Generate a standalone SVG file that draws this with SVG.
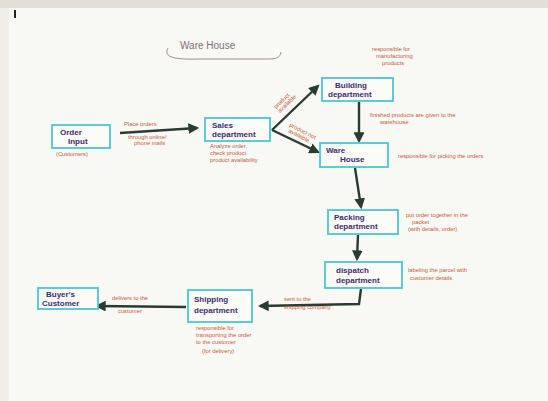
<svg xmlns="http://www.w3.org/2000/svg" width="548" height="401" viewBox="0 0 548 401">
<style>
.box{fill:#fbfbf8;stroke:#4cc6cf;stroke-width:1.8}
.nt{font-family:"Liberation Sans",sans-serif;font-size:8px;fill:#3b2d6b;font-weight:bold}
.rt{font-family:"Liberation Sans",sans-serif;font-size:5.8px;fill:#c4583f}
.ar{stroke:#2b3a32;stroke-width:2.4;fill:none}
</style>
<defs>
<marker id="ah" viewBox="0 0 10 10" refX="8" refY="5" markerWidth="4.5" markerHeight="4.5" orient="auto-start-reverse">
<path d="M0,0 L10,5 L0,10 z" fill="#2b3a32"/>
</marker>
</defs>
<rect width="548" height="401" fill="#f8f8f4"/>
<rect width="548" height="8" fill="#e3ded7"/>
<rect y="8" width="9" height="393" fill="#f0eee9"/>
<rect x="14" y="10" width="2" height="8" fill="#222"/>
<g id="title">
<text x="180" y="49" font-family="Liberation Sans,sans-serif" font-size="10" fill="#7d6f78">Ware House</text>
<path d="M168,48 C164,56 170,60 200,59 L268,59 C276,59 280,58 281,52" fill="none" stroke="#9a8e8e" stroke-width="1"/>
</g>
<g id="connectors">
<line class="ar" x1="120" y1="133" x2="197" y2="128" marker-end="url(#ah)"/>
<line class="ar" x1="272" y1="130" x2="318" y2="86" marker-end="url(#ah)"/>
<line class="ar" x1="272" y1="130" x2="318" y2="152" marker-end="url(#ah)"/>
<line class="ar" x1="359" y1="102" x2="359" y2="141" marker-end="url(#ah)"/>
<line class="ar" x1="355" y1="168" x2="361" y2="207" marker-end="url(#ah)"/>
<line class="ar" x1="358" y1="235" x2="357" y2="259" marker-end="url(#ah)"/>
<path class="ar" d="M361,289 L359,304 L260,306" marker-end="url(#ah)"/>
<line class="ar" x1="186" y1="307" x2="97" y2="306" marker-end="url(#ah)"/>
<text class="rt" x="124" y="126">Place orders</text>
<text class="rt" x="128" y="139">through online/</text>
<text class="rt" x="134" y="145">phone mails</text>
<text class="rt" transform="translate(276,109) rotate(-44)">product</text>
<text class="rt" transform="translate(280,113) rotate(-44)">available</text>
<text class="rt" transform="translate(289,126) rotate(28)">product not</text>
<text class="rt" transform="translate(288,132) rotate(28)">available</text>
<text class="rt" x="284" y="301">sent to the</text>
<text class="rt" x="284" y="309">shipping company</text>
<text class="rt" x="112" y="300">delivers to the</text>
<text class="rt" x="118" y="313">customer</text>
</g>
<g id="order-input">
<rect class="box" x="52" y="125" width="58" height="23"/>
<text class="nt" x="60" y="135">Order</text>
<text class="nt" x="68" y="144">Input</text>
<text class="rt" x="56" y="156">(Customers)</text>
</g>
<g id="sales-department">
<rect class="box" x="205" y="118" width="65" height="23"/>
<text class="nt" x="212" y="128">Sales</text>
<text class="nt" x="212" y="137">department</text>
<text class="rt" x="210" y="148">Analyze order,</text>
<text class="rt" x="210" y="155">check product</text>
<text class="rt" x="210" y="162">product availability</text>
</g>
<g id="building-department">
<rect class="box" x="322" y="78" width="71" height="23"/>
<text class="nt" x="335" y="88">Building</text>
<text class="nt" x="328" y="97">department</text>
<text class="rt" x="372" y="51">responsible for</text>
<text class="rt" x="376" y="58">manufacturing</text>
<text class="rt" x="382" y="65">products</text>
<text class="rt" x="370" y="117">finished products are given to the</text>
<text class="rt" x="380" y="124">warehouse</text>
</g>
<g id="ware-house">
<rect class="box" x="320" y="143" width="68" height="24"/>
<text class="nt" x="326" y="153">Ware</text>
<text class="nt" x="340" y="162">House</text>
<text class="rt" x="398" y="158">responsible for picking the orders</text>
</g>
<g id="packing-department">
<rect class="box" x="328" y="210" width="70" height="24"/>
<text class="nt" x="334" y="220">Packing</text>
<text class="nt" x="334" y="229">department</text>
<text class="rt" x="406" y="217">put order together in the</text>
<text class="rt" x="412" y="224">packet</text>
<text class="rt" x="408" y="231">(with details, order)</text>
</g>
<g id="dispatch-department">
<rect class="box" x="325" y="262" width="77" height="26"/>
<text class="nt" x="336" y="273">dispatch</text>
<text class="nt" x="336" y="283">department</text>
<text class="rt" x="408" y="272">labeling the parcel with</text>
<text class="rt" x="410" y="280">customer details</text>
</g>
<g id="shipping-department">
<rect class="box" x="188" y="290" width="64" height="32"/>
<text class="nt" x="194" y="302">Shipping</text>
<text class="nt" x="194" y="313">department</text>
<text class="rt" x="196" y="330">responsible for</text>
<text class="rt" x="196" y="337">transporting the order</text>
<text class="rt" x="196" y="344">to the customer</text>
<text class="rt" x="202" y="353">(for delivery)</text>
</g>
<g id="buyers-customer">
<rect class="box" x="38" y="288" width="60" height="21"/>
<text class="nt" x="46" y="297">Buyer's</text>
<text class="nt" x="42" y="306">Customer</text>
</g>
</svg>
